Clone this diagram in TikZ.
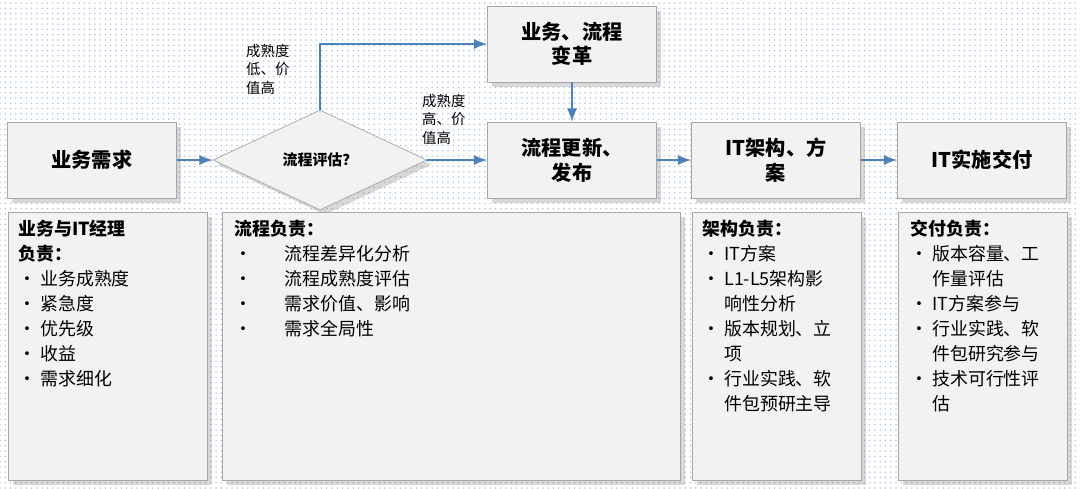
\documentclass[tikz,border=0pt]{standalone}
\usepackage{fontspec}
\setmainfont{Noto Sans CJK SC}
\usetikzlibrary{shapes.geometric,patterns,shadows}
\definecolor{arrowblue}{RGB}{79,129,189}
\definecolor{boxgray}{RGB}{242,242,242}
\definecolor{edgegray}{RGB}{166,166,166}
\tikzset{
  head/.style = {draw=edgegray, fill=boxgray, drop shadow={opacity=0.3},
                 minimum width=3.38cm, minimum height=1.52cm, align=center,
                 font=\fontsize{11.5}{14}\selectfont\bfseries, inner sep=2pt},
  panel/.style = {draw=edgegray, fill=boxgray, drop shadow={opacity=0.3},
                  anchor=north west, minimum height=5.36cm},
  body/.style = {anchor=north west, align=left, inner sep=0pt,
                 font=\fontsize{10.2}{14.2}\selectfont},
  flow/.style = {draw=arrowblue, line width=1.6pt, -latex},
  note/.style = {align=left, font=\fontsize{8.2}{10.5}\selectfont}
}
\begin{document}
\begin{tikzpicture}[x=0.02cm,y=-0.02cm]
  \useasboundingbox (0,0) rectangle (1080,488);
  \fill[white] (0,0) rectangle (1080,488);
  \fill[pattern=dots, pattern color=arrowblue!45] (0,0) rectangle (1080,488);

  \node[head] (need) at (92,160) {业务需求};
  \node[draw=edgegray, fill=boxgray, diamond, aspect=2, minimum width=4.28cm,
        minimum height=2cm, inner sep=0pt, drop shadow={opacity=0.3},
        font=\fontsize{8.5}{10}\selectfont\bfseries] (eval) at (320,160) {流程评估？};
  \node[head] (change) at (572,44) {业务、流程\\变革};
  \node[head] (update) at (572,160) {流程更新、\\发布};
  \node[head] (arch) at (776,160) {IT架构、方\\案};
  \node[head] (deliver) at (982,160) {IT实施交付};

  % lower panels
  \node[panel, minimum width=3.98cm] (p1) at (8,212) {};
  \node[panel, minimum width=9.16cm] (p2) at (222,212) {};
  \node[panel, minimum width=3.38cm] (p3) at (692,212) {};
  \node[panel, minimum width=3.38cm] (p4) at (898,212) {};
  \node[body] (t1) at (18,220)
    {\textbf{业务与IT经理}\\\textbf{负责：}\\• 业务成熟度\\• 紧急度\\• 优先级\\• 收益\\• 需求细化};
  \node[body] (t2) at (234,220)
    {\textbf{流程负责：}\\•\hspace{1.8em}流程差异化分析\\•\hspace{1.8em}流程成熟度评估\\•\hspace{1.8em}需求价值、影响\\•\hspace{1.8em}需求全局性};
  \node[body] (t3) at (702,220)
    {\textbf{架构负责：}\\• IT方案\\• L1-L5架构影\\\phantom{• }响性分析\\• 版本规划、立\\\phantom{• }项\\• 行业实践、软\\\phantom{• }件包预研主导};
  \node[body] (t4) at (910,220)
    {\textbf{交付负责：}\\• 版本容量、工\\\phantom{• }作量评估\\• IT方案参与\\• 行业实践、软\\\phantom{• }件包研究参与\\• 技术可行性评\\\phantom{• }估};

  \draw[flow] (need) -- (eval);
  \draw[flow] (eval) -- (update);
  \draw[flow] (eval.north) |- (change.west);
  \draw[flow] (change) -- (update);
  \draw[flow] (update) -- (arch);
  \draw[flow] (arch) -- (deliver);

  \node[note, anchor=north west] (low) at (240,38) {成熟度\\低、价\\值高};
  \node[note, anchor=north west] (high) at (416,88) {成熟度\\高、价\\值高};
\end{tikzpicture}
\end{document}
